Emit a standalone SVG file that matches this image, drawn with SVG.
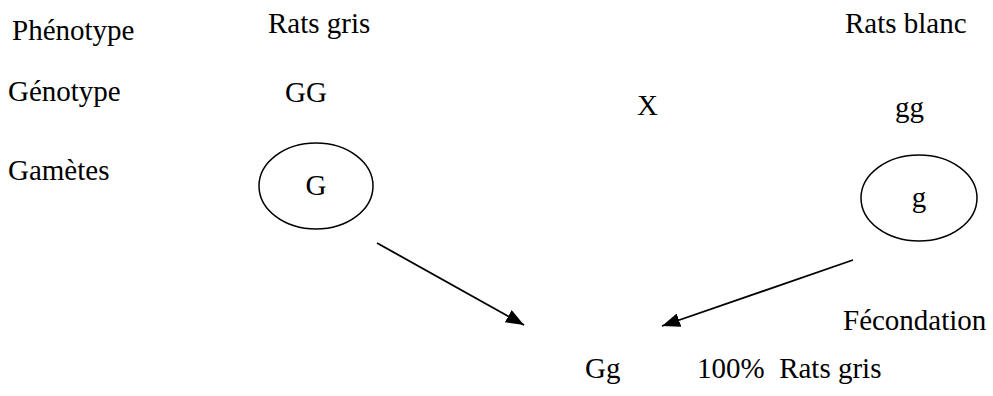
<svg xmlns="http://www.w3.org/2000/svg" width="993" height="396" viewBox="0 0 993 396">
<defs>
<style>
text{font-family:"Liberation Serif","Times New Roman",serif;font-size:29px;fill:#000}
.c{text-anchor:middle}
ellipse{fill:none;stroke:#000;stroke-width:1.5}
.ln{stroke:#000;stroke-width:1.8;fill:none}
</style>
<marker id="ah" markerWidth="18" markerHeight="14" refX="18" refY="7" orient="auto" markerUnits="userSpaceOnUse" viewBox="0 0 18 14">
<path d="M0,0 L18,7 L0,14 Z" fill="#000"/>
</marker>
</defs>
<rect width="993" height="396" fill="#fff"/>
<g id="labels">
<text x="12" y="40">Phénotype</text>
<text x="8" y="101">Génotype</text>
<text x="8" y="180">Gamètes</text>
</g>
<g id="parent1">
<text x="268" y="33">Rats gris</text>
<text x="285" y="102">GG</text>
</g>
<g id="cross"><text x="637" y="115">X</text></g>
<g id="parent2">
<text x="845" y="33">Rats blanc</text>
<text x="895" y="117">gg</text>
</g>
<g id="gameteG">
<ellipse cx="316" cy="186" rx="57" ry="43"/>
<text class="c" x="316" y="195">G</text>
</g>
<g id="gameteg">
<ellipse cx="919" cy="198" rx="58" ry="43"/>
<text class="c" x="919" y="207">g</text>
</g>
<g id="connectors">
<line class="ln" x1="377" y1="243" x2="524" y2="325" marker-end="url(#ah)"/>
<line class="ln" x1="853" y1="260" x2="662" y2="326" marker-end="url(#ah)"/>
</g>
<g id="fecondation"><text x="843" y="330">Fécondation</text></g>
<g id="result">
<text x="585" y="378">Gg</text>
<text x="697" y="378" xml:space="preserve">100%  Rats gris</text>
</g>
</svg>
